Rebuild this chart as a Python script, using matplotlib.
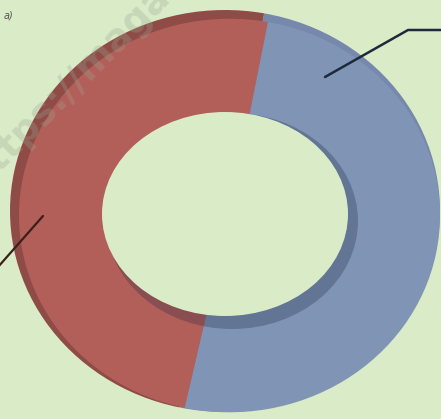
import matplotlib
matplotlib.use("Agg")
import matplotlib.pyplot as plt
from matplotlib.patches import Ellipse

# shares of the two parts
labels = ["Blue", "Red"]
values = [50.5, 49.5]
face_colors = ["#8094b6", "#b35f59"]
rim_colors = ["#7689ad", "#8f4b46"]
bg = "#daebc8"

W, H = 441, 419
cx, cy, rx, ry = 225, 211, 215, 201   # outer ellipse in pixels


def px(x, y):
    # pixel position -> unit ellipse coordinates
    return (x - cx) / rx, (cy - y) / ry


fig = plt.figure(figsize=(W / 100, H / 100), dpi=100, facecolor=bg)
ax = fig.add_axes([0, 0, 1, 1])
ax.set_facecolor(bg)

start = 79.5
# outer side wall, seen on the upper left
ax.pie(values, colors=rim_colors, startangle=start, counterclock=False,
       radius=1.0, center=(0, 0), frame=True,
       wedgeprops=dict(linewidth=0))
# top face, shifted a little to the lower right
sx, sy = 4.5 / rx, 4.5 / ry
ax.pie(values, colors=face_colors, startangle=start, counterclock=False,
       radius=1 - sx, center=(sx, -sy), frame=True,
       wedgeprops=dict(linewidth=0))
ax.set_aspect("auto")
ax.set_xlim(-cx / rx, (W - cx) / rx)
ax.set_ylim(-(H - cy) / ry, cy / ry)
ax.axis("off")

# inner wall shadow and the hole
hx, hy = px(232, 221)
ax.add_patch(Ellipse((hx, hy), 2 * 126 / rx, 2 * 108 / ry,
                     facecolor="#1a2540", alpha=0.28, linewidth=0))
hx, hy = px(225, 214)
ax.add_patch(Ellipse((hx, hy), 2 * 123 / rx, 2 * 102 / ry,
                     facecolor=bg, linewidth=0))

# leader lines
x0, y0 = px(325, 77)
x1, y1 = px(408, 30)
x2, y2 = px(441, 30)
ax.plot([x0, x1, x2], [y0, y1, y2], color="#1d2a3c", lw=1.8,
        solid_capstyle="round")
x0, y0 = px(43, 216)
x1, y1 = px(-2, 267)
ax.plot([x0, x1], [y0, y1], color="#3a1f1c", lw=1.6, solid_capstyle="round")

# corner text and watermark
fig.text(4 / W, 1 - 15 / H, "a)", fontsize=7, style="italic",
         color="#555555", ha="left", va="center")
fig.text(-20 / W, 1 - 189 / H, "https://magazine", fontsize=27,
         rotation=45, color="#9aa692", alpha=0.3, ha="left",
         va="baseline", rotation_mode="anchor", fontweight="bold")

fig.savefig("out.png", dpi=100, facecolor=bg)
